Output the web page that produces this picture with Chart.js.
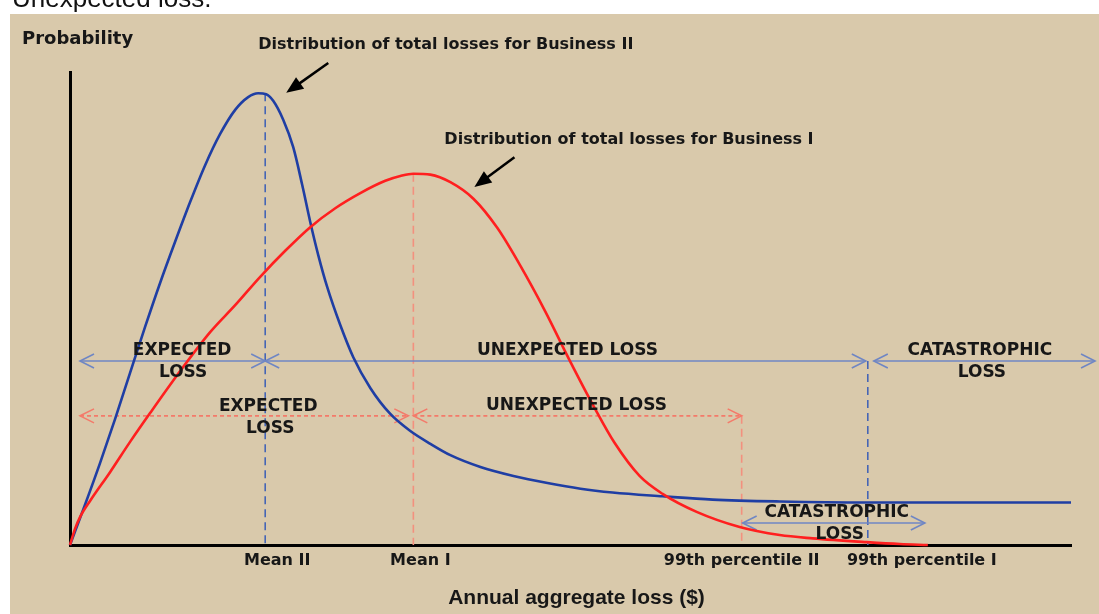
<!DOCTYPE html>
<html lang="en">
<head>
  <meta charset="UTF-8" />
  <title>Distribution of total losses</title>
  <script src="https://cdn.jsdelivr.net/npm/chart.js"></script>
  <style>
    body { margin: 0; background: #fff; }
    canvas { display: block; }
  </style>
</head>
<body>
  <canvas id="chart" width="1099" height="614"></canvas>

  <script>
    // loss runs 0..100 and probability 0..100, arbitrary units
    const lossII = [0, 1.5, 3.0, 4.5, 6.0, 7.5, 9.0, 10.5, 12.0, 13.5, 15.0, 16.5, 17.8, 18.8, 19.6, 20.3, 21.3, 22.3, 23.2, 24.0, 24.8, 25.7, 27.0, 28.3, 30.0, 32.0, 34.0, 36.0, 38.0, 41.0, 44.3, 47.7, 51.0, 54.2, 59.2, 64.2, 70.9, 79.7, 100];
    const probII = [0, 8.5, 17.3, 26.6, 36.4, 46.1, 55.4, 64.1, 72.5, 80.3, 86.9, 92.0, 94.7, 95.5, 95.3, 93.9, 89.9, 84.1, 76.1, 68.3, 61.3, 54.5, 46.5, 39.7, 33.2, 27.7, 24.1, 21.4, 19.0, 16.5, 14.6, 13.1, 11.9, 11.1, 10.3, 9.6, 9.2, 9.0, 9.0];

    const lossI = [0, 0.5, 1.0, 2.0, 4.0, 6.0, 8.0, 10.7, 14.0, 16.5, 19.0, 21.5, 24.0, 26.5, 29.0, 31.5, 33.0, 34.3, 36.0, 38.0, 40.3, 42.7, 45.0, 47.5, 49.9, 52.4, 54.4, 56.9, 59.2, 62.6, 66.9, 70.9, 74.2, 79.6, 82.9, 85.7];
    const probI = [0, 3.4, 5.9, 9.3, 15.4, 21.8, 27.9, 35.9, 45.0, 50.7, 56.7, 62.2, 67.2, 71.2, 74.4, 77.0, 78.0, 78.5, 78.3, 76.7, 73.2, 67.0, 59.0, 49.3, 39.1, 29.0, 21.6, 14.6, 10.8, 7.0, 3.8, 2.1, 1.4, 0.6, 0.2, 0];

    const markerNames = ['Mean II', 'Mean I', '99th percentile II', '99th percentile I'];
    const markerLoss = [19.5, 34.3, 67.1, 79.7];
    const markerLabelAt = [20.7, 35.0, 67.1, 85.1];

    // heights of the three bands of range arrows
    const bandLevels = [38.9, 27.3, 4.65];

    const BEIGE = '#d9c9ab';
    const BLUE = '#1f3ea4';
    const RED = '#ff1f1f';
    const BLUE_SOFT = '#6f86c4';
    const RED_SOFT = '#f47a6a';
    const INK = '#171717';
    const BOLD = 'bold 17px "DejaVu Sans"';

    function rangeArrow(ctx, x1, x2, y, color, dash) {
      ctx.save();
      ctx.strokeStyle = color;
      ctx.lineWidth = 1.6;
      ctx.setLineDash(dash);
      ctx.beginPath();
      ctx.moveTo(x1, y);
      ctx.lineTo(x2, y);
      ctx.stroke();
      ctx.setLineDash([]);
      ctx.beginPath();
      ctx.moveTo(x1 + 14, y - 7); ctx.lineTo(x1, y); ctx.lineTo(x1 + 14, y + 7);
      ctx.moveTo(x2 - 14, y - 7); ctx.lineTo(x2, y); ctx.lineTo(x2 - 14, y + 7);
      ctx.stroke();
      ctx.restore();
    }

    function dashedDrop(ctx, x, yTop, yBottom, color) {
      ctx.save();
      ctx.strokeStyle = color;
      ctx.lineWidth = 1.6;
      ctx.setLineDash([8, 5]);
      ctx.beginPath();
      ctx.moveTo(x, yTop);
      ctx.lineTo(x, yBottom);
      ctx.stroke();
      ctx.restore();
    }

    function pointer(ctx, x1, y1, x2, y2) {
      const a = Math.atan2(y2 - y1, x2 - x1);
      ctx.save();
      ctx.strokeStyle = '#000';
      ctx.fillStyle = '#000';
      ctx.lineWidth = 2.5;
      ctx.beginPath();
      ctx.moveTo(x1, y1);
      ctx.lineTo(x2 - 12 * Math.cos(a), y2 - 12 * Math.sin(a));
      ctx.stroke();
      ctx.beginPath();
      ctx.moveTo(x2, y2);
      ctx.lineTo(x2 - 17 * Math.cos(a) + 7 * Math.sin(a), y2 - 17 * Math.sin(a) - 7 * Math.cos(a));
      ctx.lineTo(x2 - 17 * Math.cos(a) - 7 * Math.sin(a), y2 - 17 * Math.sin(a) + 7 * Math.cos(a));
      ctx.closePath();
      ctx.fill();
      ctx.restore();
    }

    function text(ctx, str, x, y, font, align) {
      ctx.save();
      ctx.font = font;
      ctx.fillStyle = INK;
      ctx.textAlign = align || 'center';
      ctx.textBaseline = 'middle';
      ctx.fillText(str, x, y);
      ctx.restore();
    }

    const backdrop = {
      id: 'backdrop',
      beforeDraw(chart) {
        const ctx = chart.ctx;
        ctx.save();
        ctx.fillStyle = '#fff';
        ctx.fillRect(0, 0, chart.width, chart.height);
        ctx.fillStyle = BEIGE;
        ctx.fillRect(10, 14, chart.width - 10, chart.height - 14);
        ctx.font = '26px "Liberation Sans"';
        ctx.fillStyle = '#111';
        ctx.textBaseline = 'alphabetic';
        ctx.fillText('Unexpected loss.', 12, 7);
        ctx.restore();
      },
      beforeDatasetsDraw(chart) {
        const ctx = chart.ctx;
        const x = chart.scales.x, y = chart.scales.y;
        const px = v => x.getPixelForValue(v);
        const py = v => y.getPixelForValue(v);
        const base = py(0);

        dashedDrop(ctx, px(markerLoss[0]), py(Math.max(...probII)), base, '#4565b5');
        dashedDrop(ctx, px(markerLoss[1]), py(Math.max(...probI)), base, '#f3907e');
        dashedDrop(ctx, px(markerLoss[2]), py(bandLevels[1]), base, '#f3907e');
        dashedDrop(ctx, px(markerLoss[3]), py(bandLevels[0]), base, '#4565b5');

        const r1 = py(bandLevels[0]), r2 = py(bandLevels[1]), r3 = py(bandLevels[2]);
        rangeArrow(ctx, px(1.0), px(markerLoss[0]), r1, BLUE_SOFT, []);
        rangeArrow(ctx, px(markerLoss[0]), px(markerLoss[3] - 0.2), r1, BLUE_SOFT, []);
        rangeArrow(ctx, px(markerLoss[3] + 0.6), px(102.4), r1, BLUE_SOFT, []);
        rangeArrow(ctx, px(1.0), px(33.8), r2, RED_SOFT, [4, 3]);
        rangeArrow(ctx, px(markerLoss[1]), px(markerLoss[2]), r2, RED_SOFT, [4, 3]);
        rangeArrow(ctx, px(markerLoss[2] + 0.1), px(85.4), r3, BLUE_SOFT, []);
      },
      afterDatasetsDraw(chart) {
        const ctx = chart.ctx;
        const x = chart.scales.x, y = chart.scales.y;
        const px = v => x.getPixelForValue(v);
        const py = v => y.getPixelForValue(v);
        const r1 = py(bandLevels[0]), r2 = py(bandLevels[1]), r3 = py(bandLevels[2]);

        text(ctx, 'EXPECTED', px(11.2), r1 - 10, BOLD);
        text(ctx, 'LOSS', px(11.3), r1 + 12, BOLD);
        text(ctx, 'UNEXPECTED LOSS', px(49.7), r1 - 10, BOLD);
        text(ctx, 'CATASTROPHIC', px(90.9), r1 - 10, BOLD);
        text(ctx, 'LOSS', px(91.1), r1 + 12, BOLD);

        text(ctx, 'EXPECTED', px(19.8), r2 - 9, BOLD);
        text(ctx, 'LOSS', px(20.0), r2 + 13, BOLD);
        text(ctx, 'UNEXPECTED LOSS', px(50.6), r2 - 10, BOLD);

        text(ctx, 'CATASTROPHIC', px(76.6), r3 - 10, BOLD);
        text(ctx, 'LOSS', px(76.9), r3 + 12, BOLD);

        text(ctx, 'Distribution of total losses for Business II', px(18.8), py(105.8), 'bold 16px "DejaVu Sans"', 'left');
        pointer(ctx, px(25.8), py(101.9), px(21.6), py(95.6));
        text(ctx, 'Distribution of total losses for Business I', px(37.4), py(85.6), 'bold 16px "DejaVu Sans"', 'left');
        pointer(ctx, px(44.4), py(82.0), px(40.4), py(75.7));

        text(ctx, 'Probability', 22, 39, 'bold 18px "DejaVu Sans"', 'left');
        text(ctx, 'Annual aggregate loss ($)', px(50.6), chart.chartArea.bottom + 53, 'bold 21px "Liberation Sans"');
      }
    };

    new Chart(document.getElementById('chart'), {
      type: 'scatter',
      data: {
        datasets: [
          {
            label: 'Business I',
            data: lossI.map((v, i) => ({ x: v, y: probI[i] })),
            borderColor: RED,
            borderWidth: 2.6,
            showLine: true,
            pointRadius: 0,
            cubicInterpolationMode: 'monotone',
            clip: 6
          },
          {
            label: 'Business II',
            data: lossII.map((v, i) => ({ x: v, y: probII[i] })),
            borderColor: BLUE,
            borderWidth: 2.6,
            showLine: true,
            pointRadius: 0,
            cubicInterpolationMode: 'monotone',
            clip: 6
          }
        ]
      },
      options: {
        responsive: false,
        animation: false,
        layout: { padding: { left: 70, right: 28, top: 72, bottom: 41 } },
        plugins: {
          legend: { display: false },
          tooltip: { enabled: false }
        },
        scales: {
          x: {
            type: 'linear',
            min: 0,
            max: 100,
            grid: { display: false, drawTicks: false },
            border: { display: true, color: '#000', width: 3 },
            afterBuildTicks: s => { s.ticks = markerLabelAt.map(v => ({ value: v })); },
            afterFit: s => { s.height = 28; },
            ticks: {
              autoSkip: false,
              maxRotation: 0,
              padding: 6,
              color: INK,
              font: { family: 'DejaVu Sans', size: 16, weight: 'bold' },
              callback: v => markerNames[markerLabelAt.indexOf(v)]
            }
          },
          y: {
            min: 0,
            max: 100,
            grid: { display: false, drawTicks: false },
            border: { display: true, color: '#000', width: 3 },
            ticks: { display: false },
            afterFit: s => { s.width = 0; }
          }
        }
      },
      plugins: [backdrop]
    });
  </script>
</body>
</html>
